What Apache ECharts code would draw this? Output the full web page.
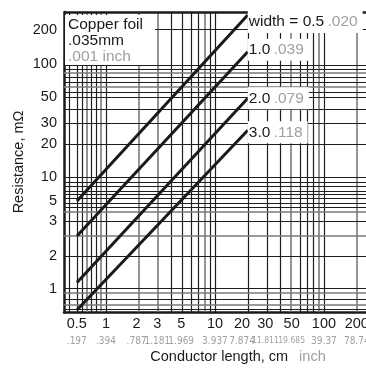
<!DOCTYPE html>
<html>
<head>
<meta charset="utf-8">
<script src="https://cdn.jsdelivr.net/npm/echarts@6/dist/echarts.min.js"></script>
<style>
html,body{margin:0;padding:0;background:#fff;}
#chart{width:366px;height:369px;}
</style>
</head>
<body>
<div id="chart"></div>
<script>
// axis ranges (log scales)
var xMin = 0.412, xMax = 243;
var yMin = 0.608, yMax = 313;

// conductor length (cm) at both ends of every line
var lengthCm = [0.542, 20];
// trace widths, mm and inch
var widthMm = ['width = 0.5', '1.0', '2.0', '3.0'];
var widthInch = ['.020', '.039', '.079', '.118'];
// resistance (mOhm) at the two lengths
var res05 = [6.12, 294];
var res10 = [2.96, 137];
var res20 = [1.125, 52];
var res30 = [0.633, 26.7];

// tick labels and where they sit
var xTickText = ['0.5', '1', '2', '3', '5', '10', '20', '30', '50', '100', '200'];
var xTickInch = ['.197', '.394', '.787', '1.181', '1.969', '3.937', '7.874', '11.811', '19.685', '39.37', '78.74'];
var xTickPos = [0.542, 1, 1.91, 2.96, 4.9, 10, 17.7, 29, 50.5, 100, 200];
var yTickText = ['1', '2', '3', '5', '10', '20', '30', '50', '100', '200'];
var yTickPos = [0.98, 1.97, 4.0, 6.1, 10, 20, 31, 53, 106, 216];

// grid lines
var vLines = [0.458, 0.542, 0.615, 0.656, 0.728, 0.81, 0.9, 1, 2, 3, 4, 5, 6, 7, 8, 9, 10, 20, 30, 40, 50, 60, 70, 80, 90, 100, 200];
var vGray = [0.656, 0.9, 2, 3, 8, 50, 90, 200];
var hLines = [218, 104, 95, 88, 81, 73, 66, 58.5, 53, 41, 31, 20, 10, 9, 8.3, 7.5, 7, 6.5, 5.8, 5.4, 4.9, 4, 2.95, 1.95, 1, 0.9, 0.8, 0.71, 0.65];
var hGray = [88, 66, 4.9, 2.95, 0.9, 0.71];

var ink = '#1a1a1a';
var grey = '#a0a0a0';
var mainFont = '"Liberation Sans", Arial, sans-serif';
var narrowFont = '"Liberation Sans Narrow", "DejaVu Sans Condensed", "Liberation Sans", sans-serif';

var myChart = echarts.init(document.getElementById('chart'));

var darkLine = {color: '#1e1e1e', width: 1.2, type: 'solid'};
var grayLine = {color: '#7a7a7a', width: 1.6, type: 'solid'};
var noLine = {color: 'rgba(0,0,0,0)', width: 1};

var marks = [];
vLines.forEach(function (v) {
    marks.push({xAxis: v, lineStyle: vGray.indexOf(v) >= 0 ? grayLine : darkLine});
});
hLines.forEach(function (v) {
    marks.push({yAxis: v, lineStyle: hGray.indexOf(v) >= 0 ? grayLine : darkLine});
});
// top border
marks.push({yAxis: yMax, lineStyle: {color: ink, width: 2.5, type: 'solid'}});
// x tick labels
xTickPos.forEach(function (v, i) {
    marks.push({
        xAxis: v, lineStyle: noLine,
        label: {
            show: true, position: 'start', distance: 4,
            formatter: '{m|' + xTickText[i] + '}\n{n|' + xTickInch[i] + '}',
            rich: {
                m: {fontSize: 14.5, color: ink, fontFamily: mainFont, lineHeight: 16, align: 'center'},
                n: {fontSize: xTickInch[i].length > 5 ? 8.5 : 10, color: grey, fontFamily: narrowFont, lineHeight: 18, align: 'center'}
            }
        }
    });
});
// y tick labels
yTickPos.forEach(function (v, i) {
    marks.push({
        yAxis: v, lineStyle: noLine,
        label: {
            show: true, position: 'start', distance: 7,
            formatter: yTickText[i],
            fontSize: 14.5, color: ink, fontFamily: mainFont
        }
    });
});

function trace(i, res, offset) {
    return {
        type: 'line',
        z: 3,
        silent: true,
        symbol: 'none',
        lineStyle: {color: ink, width: 3},
        data: [[lengthCm[0], res[0]], [lengthCm[1], res[1]]],
        endLabel: {
            show: true,
            distance: 0,
            offset: offset,
            backgroundColor: '#fff',
            padding: [3, 5, 3, 1],
            formatter: function () {
                return '{m|' + widthMm[i] + '} {n|' + widthInch[i] + '}';
            },
            rich: {
                m: {fontSize: 15.5, color: ink, fontFamily: mainFont},
                n: {fontSize: 15.5, color: grey, fontFamily: mainFont}
            }
        }
    };
}

var option = {
    animation: false,
    backgroundColor: '#fff',
    title: {
        left: 65,
        top: 15,
        padding: [2, 12, 0, 3],
        backgroundColor: '#fff',
        text: '{m|Copper foil}\n{m|.035mm}\n{n|.001 inch}',
        textStyle: {
            fontWeight: 'normal',
            rich: {
                m: {fontSize: 15.5, fontWeight: 'normal', color: ink, fontFamily: mainFont, lineHeight: 16},
                n: {fontSize: 15.5, fontWeight: 'normal', color: grey, fontFamily: mainFont, lineHeight: 16}
            }
        }
    },
    grid: {left: 64, top: 12, right: 0, bottom: 56, containLabel: false},
    xAxis: {
        type: 'log',
        logBase: 10,
        min: xMin,
        max: xMax,
        name: '{m|Conductor length, cm}{n|inch}',
        nameLocation: 'middle',
        nameGap: 37,
        nameTextStyle: {
            padding: [0, 0, 0, 46],
            rich: {
                m: {fontSize: 14.5, color: ink, fontFamily: mainFont},
                n: {fontSize: 14.5, color: grey, fontFamily: mainFont, padding: [0, 0, 0, 11]}
            }
        },
        axisLine: {show: true, lineStyle: {color: ink, width: 2.5}},
        axisTick: {show: false},
        axisLabel: {show: false},
        splitLine: {show: false}
    },
    yAxis: {
        type: 'log',
        logBase: 10,
        min: yMin,
        max: yMax,
        name: 'Resistance, mΩ',
        nameLocation: 'middle',
        nameGap: 38,
        nameTextStyle: {fontSize: 14.5, color: ink, fontFamily: mainFont},
        axisLine: {show: true, lineStyle: {color: ink, width: 2.5}},
        axisTick: {show: false},
        axisLabel: {show: false},
        splitLine: {show: false}
    },
    series: [
        {
            type: 'line',
            z: 1,
            silent: true,
            symbol: 'none',
            lineStyle: {width: 0, opacity: 0},
            data: [[1, 1]],
            markLine: {
                z: 1,
                silent: true,
                symbol: ['none', 'none'],
                animation: false,
                label: {show: false},
                data: marks
            }
        },
        trace(0, res05, [0, 7]),
        trace(1, res10, [0, -2]),
        trace(2, res20, [0, 0]),
        trace(3, res30, [0, 2])
    ]
};

myChart.setOption(option, true);
</script>
</body>
</html>
